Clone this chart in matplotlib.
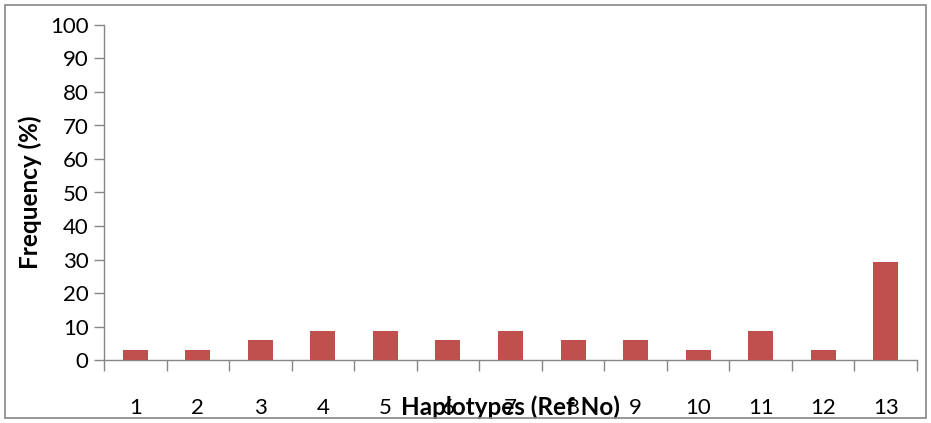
import matplotlib
matplotlib.use("Agg")
import matplotlib.pyplot as plt
from matplotlib.patches import Rectangle
import numpy as np

categories = ["1", "2", "3", "4", "5", "6", "7", "8", "9", "10", "11", "12", "13"]
frequency = [2.9, 2.9, 5.9, 8.8, 8.8, 5.9, 8.8, 5.9, 5.9, 2.9, 8.8, 2.9, 29.4]
yticks = [0, 10, 20, 30, 40, 50, 60, 70, 80, 90, 100]

plt.rcParams['font.family'] = ['Lato', 'DejaVu Sans']

W, H = 931, 423
fig = plt.figure(figsize=(W / 100, H / 100), dpi=100)
ax = fig.add_axes([104 / W, 1 - 360 / H, (917 - 104) / W, (360 - 25) / H])

x = np.arange(len(categories))
ax.bar(x, frequency, width=0.4, color="#C0504D", zorder=3)

ax.set_xlim(-0.5, len(categories) - 0.5)
ax.set_ylim(0, 100)
ax.set_yticks(yticks)
ax.set_yticklabels([str(v) for v in yticks], fontsize=16)
ax.set_xticks(x)
ax.set_xticklabels(categories, fontsize=16)
ax.tick_params(axis='x', length=0, pad=27)
ax.set_xticks(np.arange(len(categories) + 1) - 0.5, minor=True)
ax.tick_params(axis='x', which='minor', length=8, color="#868686", width=1)
ax.tick_params(axis='y', length=7, color="#868686", width=1, pad=4)

for s in ["top", "right"]:
    ax.spines[s].set_visible(False)
for s in ["left", "bottom"]:
    ax.spines[s].set_color("#868686")
    ax.spines[s].set_linewidth(1)

ax.set_ylabel("Frequency (%)", fontsize=17.5, fontweight="bold", labelpad=6)
ax.set_xlabel("Haplotypes (Ref No)", fontsize=17.5, fontweight="bold")
ax.xaxis.set_label_coords(0.5, -0.14)
ax.xaxis.label.set_verticalalignment('center')

fig.patches.append(Rectangle((5 / W, 5 / H), (926 - 5) / W, (418 - 5) / H,
                             transform=fig.transFigure, fill=False,
                             edgecolor="#868686", linewidth=1.2))

fig.savefig("out.png", dpi=100)
